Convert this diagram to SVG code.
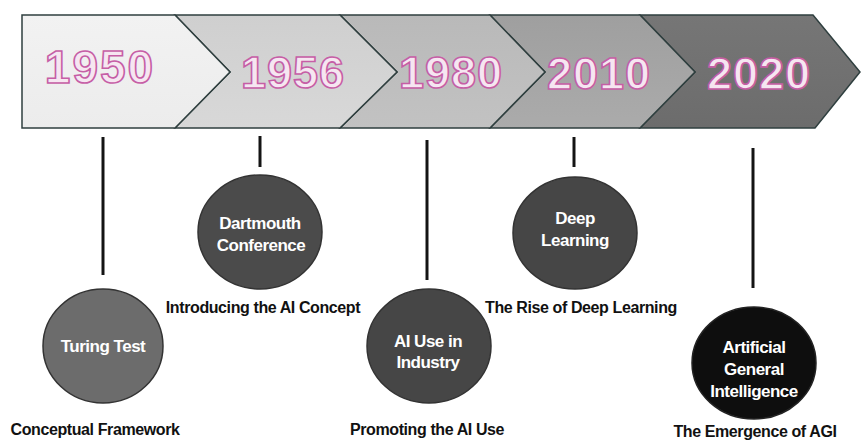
<svg xmlns="http://www.w3.org/2000/svg" width="861" height="441" viewBox="0 0 861 441">
<defs>
<linearGradient id="g1" x1="0" y1="0" x2="0" y2="1"><stop offset="0" stop-color="#f2f2f2"/><stop offset="1" stop-color="#ececec"/></linearGradient>
<linearGradient id="g2" x1="0" y1="0" x2="0" y2="1"><stop offset="0" stop-color="#cfcfcf"/><stop offset="1" stop-color="#d8d8d8"/></linearGradient>
<linearGradient id="g3" x1="0" y1="0" x2="0" y2="1"><stop offset="0" stop-color="#b9b9b9"/><stop offset="1" stop-color="#c2c2c2"/></linearGradient>
<linearGradient id="g4" x1="0" y1="0" x2="0" y2="1"><stop offset="0" stop-color="#9f9f9f"/><stop offset="1" stop-color="#ababab"/></linearGradient>
<linearGradient id="g5" x1="0" y1="0" x2="0" y2="1"><stop offset="0" stop-color="#767676"/><stop offset="1" stop-color="#6c6c6c"/></linearGradient>
</defs>
<style>
.seg{stroke:#2f3f3f;stroke-width:1.5;stroke-linejoin:miter}
.yr{font-family:"Liberation Sans",Arial,sans-serif;font-weight:bold;font-size:45px;letter-spacing:1px;text-anchor:middle;fill:#f6e6f1;stroke:#c65ea6;stroke-width:1.6}
.con{stroke:#141414;stroke-width:3;fill:none}
.ct{font-family:"Liberation Sans",Arial,sans-serif;font-weight:bold;font-size:17px;fill:#ffffff;text-anchor:middle;letter-spacing:-0.5px}
.lb{font-family:"Liberation Sans",Arial,sans-serif;font-weight:bold;font-size:16px;fill:#111111;text-anchor:middle;letter-spacing:-0.4px}
.cc{stroke:#333333;stroke-width:1.5}
</style>
<g id="banner">
<polygon class="seg" fill="url(#g5)" points="640,15 813,15 860,72 815,128 640,128 695,72"/>
<polygon class="seg" fill="url(#g4)" points="490,15 640,15 695,72 640,128 490,128 545,72"/>
<polygon class="seg" fill="url(#g3)" points="340,15 490,15 545,72 490,128 340,128 397,72"/>
<polygon class="seg" fill="url(#g2)" points="175,15 340,15 397,72 340,128 175,128 230,72"/>
<polygon class="seg" fill="url(#g1)" points="22,15 175,15 230,72 175,128 22,128"/>
<text class="yr" x="100" y="83" style="font-size:46px;letter-spacing:2px">1950</text>
<text class="yr" x="293" y="88">1956</text>
<text class="yr" x="451" y="88">1980</text>
<text class="yr" x="599" y="89">2010</text>
<text class="yr" x="759" y="89">2020</text>
</g>
<g id="connectors">
<line class="con" x1="103" y1="137" x2="103" y2="275"/>
<line class="con" x1="260" y1="136" x2="260" y2="167"/>
<line class="con" x1="427" y1="140" x2="427" y2="280"/>
<line class="con" x1="574" y1="137" x2="574" y2="167"/>
<line class="con" x1="753" y1="148" x2="753" y2="288"/>
</g>
<g id="turing">
<ellipse class="cc" cx="103" cy="346" rx="60" ry="57" fill="#6c6c6c"/>
<text class="ct" x="103" y="352">Turing Test</text>
<text class="lb" x="95" y="435">Conceptual Framework</text>
</g>
<g id="dartmouth">
<ellipse class="cc" cx="260" cy="232" rx="62" ry="57" fill="#4b4b4b"/>
<text class="ct" x="260" y="229">Dartmouth</text>
<text class="ct" x="261" y="251">Conference</text>
<text class="lb" x="263" y="313">Introducing the AI Concept</text>
</g>
<g id="industry">
<ellipse class="cc" cx="429" cy="346" rx="62" ry="57" fill="#464646"/>
<text class="ct" x="428" y="347">AI Use in</text>
<text class="ct" x="428" y="368">Industry</text>
<text class="lb" x="427" y="435">Promoting the AI Use</text>
</g>
<g id="deep">
<ellipse class="cc" cx="575" cy="233" rx="62" ry="56" fill="#464646"/>
<text class="ct" x="575" y="224">Deep</text>
<text class="ct" x="575" y="246">Learning</text>
<text class="lb" x="581" y="313">The Rise of Deep Learning</text>
</g>
<g id="agi">
<ellipse cx="754" cy="363" rx="62" ry="56" fill="#0e0e0e" stroke="#222" stroke-width="1.5"/>
<text class="ct" x="754" y="353">Artificial</text>
<text class="ct" x="754" y="375">General</text>
<text class="ct" x="754" y="397">Intelligence</text>
<text class="lb" x="755" y="437">The Emergence of AGI</text>
</g>
</svg>
